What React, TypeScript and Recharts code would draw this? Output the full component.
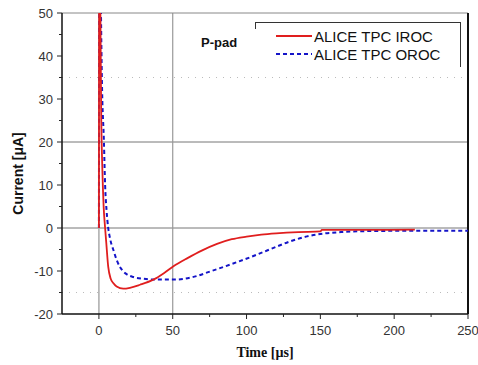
import React from 'react'
import {
  LineChart, Line, XAxis, YAxis, ReferenceLine,
} from 'recharts'

// time [µs], current [µA]
const irocTime = [0, 0.1, 0.4, 0.9, 1.5, 2.3, 3.2, 4.2, 5, 6.3, 8, 9.7, 12, 16.5, 21, 27.8, 36.9, 44, 50.5, 60, 70, 80, 90, 100, 110, 120, 135, 150, 151, 185, 214]
const irocCurrent = [0, 40, 75, 55, 28, 14, 5, 0, -3.5, -9, -11.8, -12.8, -13.6, -14.1, -13.9, -13.2, -12, -10.5, -8.9, -7, -5.2, -3.7, -2.6, -2, -1.55, -1.25, -0.95, -0.8, -0.45, -0.45, -0.4]

const orocTime = [0, 0.2, 0.7, 1.4, 2, 3.4, 4.2, 5.2, 6.3, 7.3, 8.6, 9.7, 12, 14, 16.5, 19, 23.3, 30, 36.9, 50.5, 58, 66, 75.4, 89, 107, 120.6, 129.7, 141, 152, 164, 186, 210, 250]
const orocCurrent = [0, 45, 75, 50, 35, 20, 10, 4, 0, -2, -3.9, -5, -7.4, -8.9, -10.1, -10.8, -11.4, -11.8, -12, -12, -11.8, -11.2, -10.1, -8.5, -6.2, -4.3, -3.1, -1.95, -1.3, -0.95, -0.7, -0.65, -0.65]

const xTicks = [0, 25, 50, 75, 100, 125, 150, 175, 200, 225, 250]
const yTicks = [-20, -15, -10, -5, 0, 5, 10, 15, 20, 25, 30, 35, 40, 45, 50]

const iroc = irocTime.map((t, i) => ({ t, v: irocCurrent[i] }))
const oroc = orocTime.map((t, i) => ({ t, v: orocCurrent[i] }))

const tickFont = { fontFamily: '"Liberation Sans", Arial, sans-serif', fontSize: 13, fill: '#333' }

function XTick(props: any) {
  const { x, y, payload } = props
  const major = payload.value % 50 === 0
  return (
    <g>
      <line x1={x} x2={x} y1={y} y2={y + (major ? 5 : 3)} stroke="#222" />
      {major && (
        <text x={x} y={y + 16} textAnchor="middle" dominantBaseline="central" style={tickFont}>
          {payload.value}
        </text>
      )}
    </g>
  )
}

function YTick(props: any) {
  const { x, y, payload } = props
  const major = payload.value % 10 === 0
  return (
    <g>
      <line x1={x - (major ? 5 : 3)} x2={x} y1={y} y2={y} stroke="#222" />
      {major && (
        <text x={x - 9} y={y} textAnchor="end" dominantBaseline="central" style={tickFont}>
          {payload.value}
        </text>
      )}
    </g>
  )
}

export default function App() {
  return (
    <div style={{ position: 'absolute', left: 0, top: 0, width: 478, height: 365, background: '#fff' }}>
      <LineChart width={478} height={365} margin={{ top: 13, right: 10, bottom: 21, left: 0 }}>
        <XAxis
          type="number"
          dataKey="t"
          domain={[-25, 250]}
          ticks={xTicks}
          interval={0}
          tickSize={0}
          tickMargin={0}
          tick={<XTick />}
          height={30}
          axisLine={{ stroke: '#111', strokeWidth: 1.5 }}
          label={{
            content: (p: any) => (
              <text
                x={p.viewBox.x + p.viewBox.width / 2}
                y={352}
                textAnchor="middle"
                dominantBaseline="central"
                style={{ fontFamily: '"Liberation Serif", "Times New Roman", serif', fontWeight: 'bold', fontSize: 14, fill: '#111' }}
              >
                Time [µs]
              </text>
            ),
          }}
        />
        <YAxis
          type="number"
          dataKey="v"
          domain={[-20, 50]}
          allowDataOverflow
          ticks={yTicks}
          interval={0}
          tickSize={0}
          tickMargin={0}
          tick={<YTick />}
          width={62}
          axisLine={{ stroke: '#111', strokeWidth: 1.5 }}
          label={{
            content: (p: any) => {
              const cy = p.viewBox.y + p.viewBox.height / 2 + 10
              return (
                <text
                  x={18}
                  y={cy}
                  transform={`rotate(-90 18 ${cy})`}
                  textAnchor="middle"
                  dominantBaseline="central"
                  style={{ fontFamily: '"Liberation Sans", Arial, sans-serif', fontWeight: 'bold', fontSize: 14, fill: '#111' }}
                >
                  Current [μA]
                </text>
              )
            },
          }}
        />
        <ReferenceLine y={35} stroke="#bbb" strokeDasharray="1 6" />
        <ReferenceLine y={-15} stroke="#bbb" strokeDasharray="1 6" />
        <ReferenceLine y={0} stroke="#777" />
        <ReferenceLine y={20} stroke="#777" />
        <ReferenceLine x={0} stroke="#aaa" strokeWidth={1.5} />
        <ReferenceLine x={50} stroke="#999" strokeWidth={1.2} />
        <ReferenceLine y={50} stroke="#888" />
        <ReferenceLine x={250} stroke="#111" strokeWidth={2} />
        <Line
          data={oroc}
          dataKey="v"
          type="monotone"
          stroke="#1414c8"
          strokeWidth={2}
          strokeDasharray="4 3"
          dot={false}
          isAnimationActive={false}
        />
        <Line
          data={iroc}
          dataKey="v"
          type="monotone"
          stroke="#e01e1e"
          strokeWidth={1.8}
          dot={false}
          isAnimationActive={false}
        />
      </LineChart>

      <div style={{ position: 'absolute', left: 201, top: 35, font: 'bold 13px "Liberation Sans", Arial, sans-serif', color: '#111' }}>
        P-pad
      </div>

      <div
        style={{
          position: 'absolute', left: 255, top: 22, width: 205, height: 44,
          borderTop: '1px solid #333', borderRight: '1px solid #333',
          font: '15px "Liberation Sans", Arial, sans-serif', color: '#111',
        }}
      >
        <div style={{ position: 'absolute', left: 0, top: 0, width: 1, height: 6, background: '#333' }} />
        <div style={{ position: 'absolute', left: 21, top: 4, display: 'flex', alignItems: 'center', height: 18 }}>
          <svg width={36} height={4}><line x1={0} x2={36} y1={2} y2={2} stroke="#e01e1e" strokeWidth={2} /></svg>
          <span style={{ marginLeft: 2 }}>ALICE TPC IROC</span>
        </div>
        <div style={{ position: 'absolute', left: 21, top: 22, display: 'flex', alignItems: 'center', height: 18 }}>
          <svg width={36} height={4}><line x1={0} x2={36} y1={2} y2={2} stroke="#1414c8" strokeWidth={2} strokeDasharray="4 3" /></svg>
          <span style={{ marginLeft: 2 }}>ALICE TPC OROC</span>
        </div>
      </div>
    </div>
  )
}
